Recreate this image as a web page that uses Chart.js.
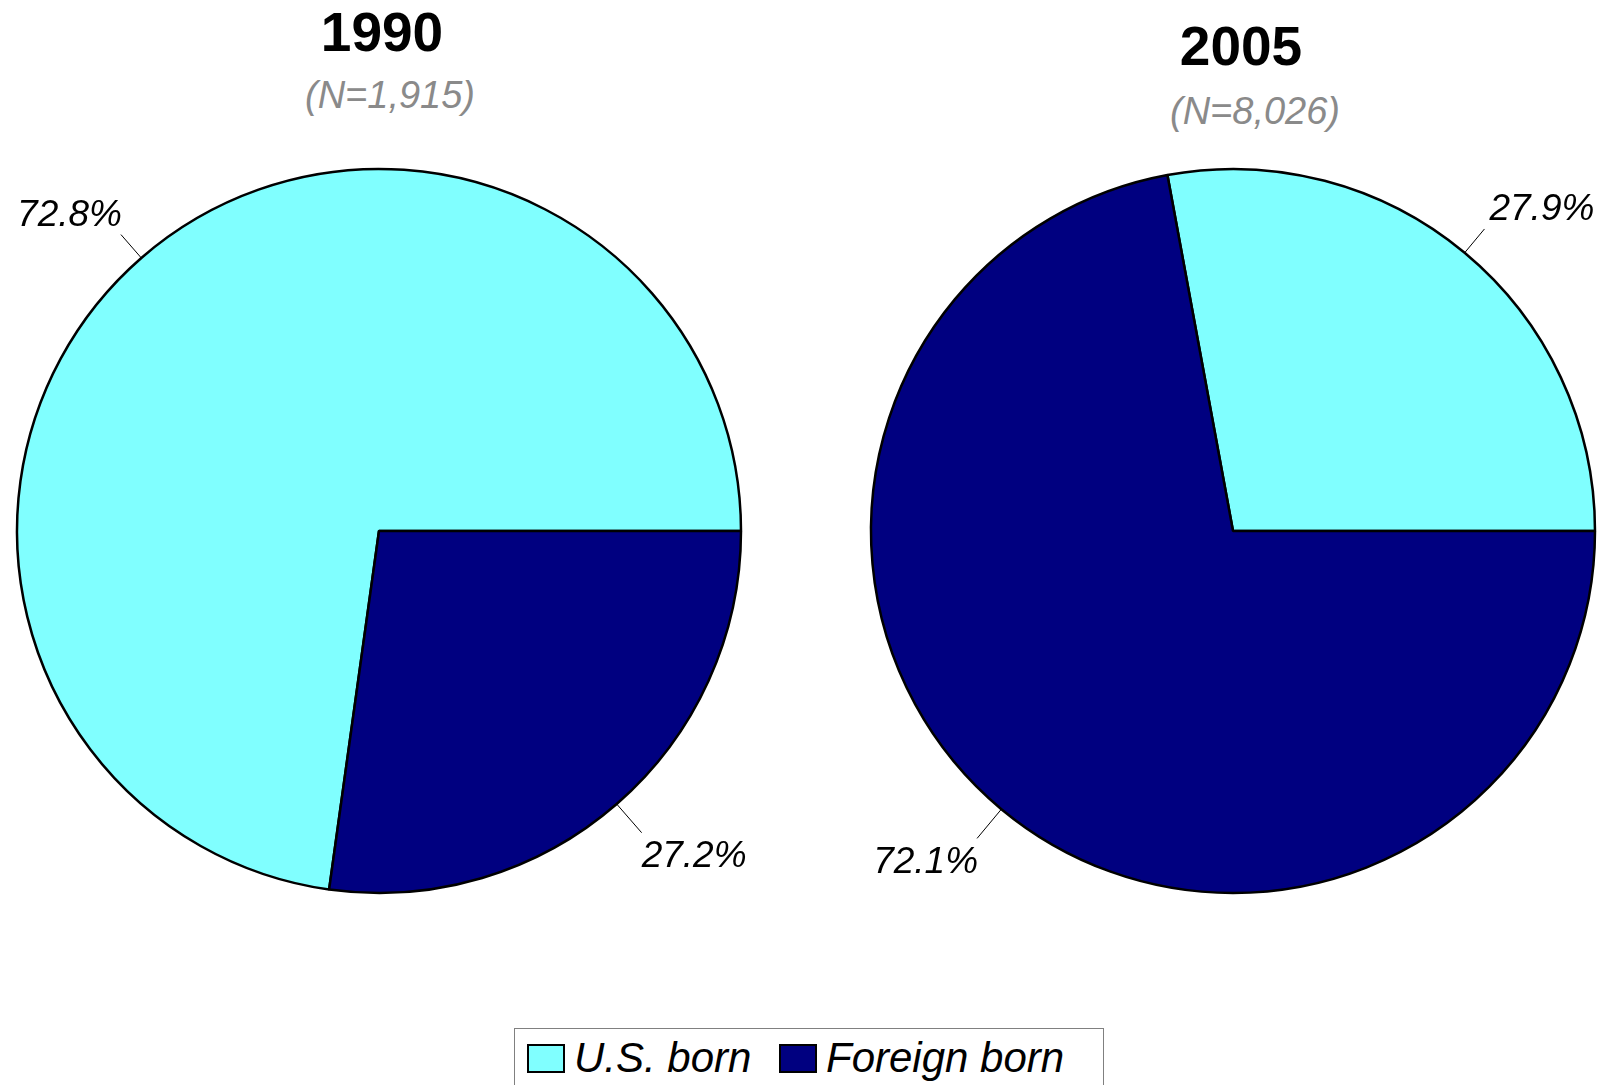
<!DOCTYPE html>
<html>
<head>
<meta charset="utf-8">
<script src="https://cdn.jsdelivr.net/npm/chart.js@4/dist/chart.umd.min.js"></script>
<style>
  html, body { margin: 0; padding: 0; background: #fff; }
  body { width: 1608px; height: 1085px; position: relative; overflow: hidden; font-family: "Liberation Sans", Arial, sans-serif; }
  .cv { position: absolute; top: 0; }
  .title { position: absolute; white-space: nowrap; transform: translateX(-50%); line-height: 1; }
  .yr { font-weight: bold; font-size: 55px; color: #000; }
  .nn { font-style: italic; font-size: 38px; color: #8a8a8a; }
  #legend { position: absolute; left: 514px; top: 1028px; width: 590px; height: 80px; border: 1px solid #808080; box-sizing: border-box; }
  .lg-item { position: absolute; top: 0; display: flex; align-items: center; height: 58px; }
  .sw { width: 34px; height: 25px; border: 2px solid #000; margin-right: 9px; }
  .lt { font-style: italic; font-size: 42px; line-height: 1; color: #000; }
</style>
</head>
<body>
<div id="t0y" class="title yr"></div>
<div id="t0n" class="title nn"></div>
<div id="t1y" class="title yr"></div>
<div id="t1n" class="title nn"></div>
<div class="cv" style="left:0;width:804px;height:1000px;"><canvas id="c0"></canvas></div>
<div class="cv" style="left:804px;width:804px;height:1000px;"><canvas id="c1"></canvas></div>
<div id="legend"></div>
<script>
// ---- data ----
const categories = ['U.S. born', 'Foreign born'];
const years = ['1990', '2005'];
const sampleSizes = ['(N=1,915)', '(N=8,026)'];
const values1990 = [72.8, 27.2];
const values2005 = [27.9, 72.1];

// ---- styles ----
const colors = ['#80FFFF', '#000080'];
const seriesByYear = [values1990, values2005];

// titles
const titlePos = [
  { yx: 382, yy: 32, nx: 390, ny: 95 },
  { yx: 1241, yy: 46, nx: 1255, ny: 111 }
];
years.forEach((y, i) => {
  const ty = document.getElementById('t' + i + 'y');
  const tn = document.getElementById('t' + i + 'n');
  ty.textContent = y;
  tn.textContent = sampleSizes[i];
  ty.style.left = titlePos[i].yx + 'px';
  ty.style.top = (titlePos[i].yy - 0.49 * 55) + 'px';
  tn.style.left = titlePos[i].nx + 'px';
  tn.style.top = (titlePos[i].ny - 0.49 * 38) + 'px';
});

// legend
const legend = document.getElementById('legend');
const lgLefts = [12, 264];
categories.forEach((c, i) => {
  const it = document.createElement('div');
  it.className = 'lg-item';
  it.style.left = lgLefts[i] + 'px';
  const sw = document.createElement('div');
  sw.className = 'sw';
  sw.style.background = colors[i];
  const t = document.createElement('span');
  t.className = 'lt';
  t.textContent = c;
  it.appendChild(sw); it.appendChild(t);
  legend.appendChild(it);
});

// outside labels with leader lines
const outLabels = {
  id: 'outLabels',
  afterDatasetsDraw(chart) {
    const ctx = chart.ctx;
    const meta = chart.getDatasetMeta(0);
    const data = chart.data.datasets[0].data;
    ctx.save();
    meta.data.forEach((arc, i) => {
      const p = arc.getProps(['x', 'y', 'startAngle', 'endAngle', 'outerRadius'], true);
      const mid = (p.startAngle + p.endAngle) / 2;
      const c = Math.cos(mid), s = Math.sin(mid);
      const r0 = p.outerRadius;
      const r1 = r0 + (s < 0 ? 31 : 38);
      const x0 = p.x + r0 * c, y0 = p.y + r0 * s;
      const x1 = p.x + r1 * c, y1 = p.y + r1 * s;
      ctx.beginPath();
      ctx.strokeStyle = '#000';
      ctx.lineWidth = 1;
      ctx.moveTo(x0, y0);
      ctx.lineTo(x1, y1);
      ctx.stroke();
      ctx.font = 'italic 37px "Liberation Sans", Arial, sans-serif';
      ctx.fillStyle = '#000';
      ctx.textBaseline = 'alphabetic';
      const txt = data[i].toFixed(1) + '%';
      let tx, ty;
      if (c >= 0) { ctx.textAlign = 'left'; tx = x1 + (s < 0 ? 5 : 0); }
      else { ctx.textAlign = 'right'; tx = x1 + 1; }
      const cy = y1 + (s < 0 ? -22 : 21);
      ty = cy + 0.358 * 37;
      ctx.fillText(txt, tx, ty);
    });
    ctx.restore();
  }
};

function makePie(id, values, padLeft, padRight) {
  new Chart(document.getElementById(id), {
    type: 'pie',
    data: {
      labels: categories,
      datasets: [{
        data: values,
        backgroundColor: colors,
        borderColor: '#000',
        borderWidth: 2.5,
        borderAlign: 'center',
        hoverOffset: 0
      }]
    },
    options: {
      responsive: true,
      maintainAspectRatio: false,
      animation: false,
      radius: 362,
      rotation: 90 - values[0] * 3.6,
      layout: { padding: { left: padLeft, right: padRight, top: 169, bottom: 107 } },
      plugins: {
        legend: { display: false },
        tooltip: { enabled: false },
        title: { display: false }
      },
      events: []
    },
    plugins: [outLabels]
  });
}

makePie('c0', seriesByYear[0], 17, 63);
makePie('c1', seriesByYear[1], 67, 13);
</script>
</body>
</html>
